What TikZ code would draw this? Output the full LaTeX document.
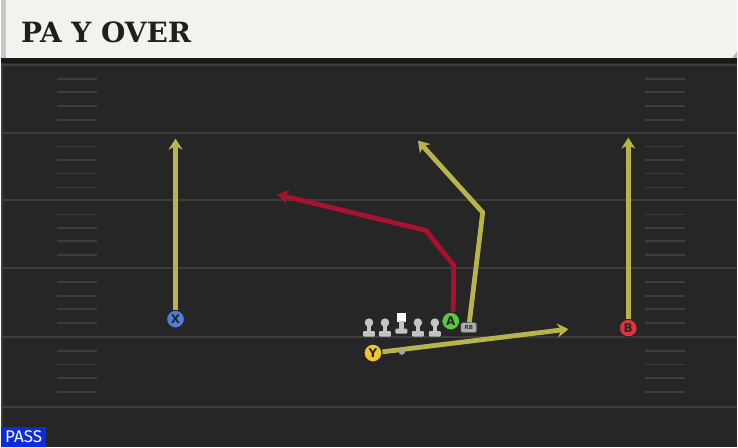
\documentclass[tikz,border=0pt]{standalone}
\usepackage{fontspec}
\setmainfont{DejaVu Sans}
\newfontfamily\titlefont{DejaVu Serif}
\newfontfamily\passfont{Fira Sans}
\usetikzlibrary{arrows.meta}
\definecolor{fieldbg}{HTML}{262626}
\definecolor{fieldline}{HTML}{3D3D3D}
\definecolor{titlebg}{HTML}{F4F2EC}
\definecolor{routeyellow}{HTML}{B6B44B}
\definecolor{routered}{HTML}{A8122F}
\definecolor{xblue}{HTML}{4C80D8}
\definecolor{agreen}{HTML}{5CC83E}
\definecolor{bred}{HTML}{E0323F}
\definecolor{yyellow}{HTML}{F0C530}
\definecolor{passblue}{HTML}{0A2BE0}
\definecolor{linegray}{HTML}{C4C4C4}

\begin{document}
\begin{tikzpicture}[x=1pt,y=-1pt,
	route/.style={line width=4.8pt,-{Stealth[length=11pt,width=14pt,inset=3.5pt]}},
	player/.style={circle,draw=black!85,line width=1.1pt,minimum size=18pt,inner sep=0pt,
		font=\bfseries\fontsize{12}{12}\selectfont,text=black!85},
	hashmark/.style={draw=fieldline,line width=1.8pt}]
	% field and title bar
	\fill[fieldbg] (0,0) rectangle (738,448);
	\fill[titlebg] (0,0) rectangle (738,58.5);
	\fill[gray!45] (0,0) rectangle (5,58.5);
	\fill[gray!60] (733,58.5) -- (738,58.5) -- (738,52) -- cycle;
	\fill[black!90] (0,58.5) rectangle (738,63.5);
	\draw[fieldline,line width=1.5pt] (1,63.5) -- (1,448);
	\foreach \yl in {65,133,201,269,338,408}
		\draw[fieldline,line width=2pt] (0,\yl) -- (738,\yl);
	\foreach \yl in {65,133,201,269,338}
		\foreach \dy in {14,27.5,41,55}{
			\draw[hashmark] (56,\yl+\dy) -- (96,\yl+\dy);
			\draw[hashmark] (646,\yl+\dy) -- (686,\yl+\dy);
		}
	\node[anchor=base west,inner sep=0pt,font=\titlefont\bfseries\fontsize{28}{28}\selectfont,text=black!88] (title) at (20,42.3) {PA Y OVER};
	% line
	\foreach \xl in {369,385,418,435}{
		\fill[linegray] (\xl,323.5) circle (4.3);
		\fill[linegray] (\xl-2.3,323) rectangle (\xl+2.3,333);
		\fill[linegray,rounded corners=1pt] (\xl-6,332) rectangle (\xl+6,337.5);
	}
	\fill[white] (397,313.5) rectangle (406,322.5);
	\fill[linegray] (399.2,322) rectangle (403.8,330);
	\fill[linegray,rounded corners=1pt] (395.5,329.5) rectangle (407.5,334.5);
	% players
	\node[player,fill=xblue] (X) at (175,320) {X};
	\node[player,fill=bred] (B) at (629,329) {B};
	\node[player,fill=agreen] (A) at (451,322) {A};
	\node[player,fill=yyellow] (Y) at (373,354) {Y};
	\node[rounded corners=2pt,fill=gray!65,draw=black!70,line width=0.6pt,minimum width=16pt,minimum height=10pt,inner sep=0pt,
		font=\bfseries\fontsize{5.5}{5.5}\selectfont,text=black!80] (RB) at (469,328.5) {RB};
	% routes
	\coordinate (xtip) at (175,139);
	\coordinate (btip) at (629,138);
	\coordinate (a1) at (454,266);
	\coordinate (a2) at (426,231);
	\coordinate (atip) at (277,195);
	\coordinate (rb1) at (483,213);
	\coordinate (rbtip) at (418,141);
	\coordinate (ytip) at (569,330);
	\draw[route,routeyellow] (X) -- (xtip);
	\draw[route,routeyellow] (B) -- (btip);
	\draw[route,routered] (A.75) -- (a1) -- (a2) -- (atip);
	\draw[route,routeyellow] (RB) -- (rb1) -- (rbtip);
	\draw[route,routeyellow] (Y) -- (ytip);
	\node[circle,fill=gray!70,inner sep=0pt,minimum size=6.5pt] (ball) at (402,352.5) {};
	% play type
	\node[fill=passblue,anchor=south west,inner sep=0pt,minimum width=45pt,minimum height=20pt,
		font=\passfont\fontsize{17}{17}\selectfont,text=white] (pass) at (0,448) {PASS};
\end{tikzpicture}
\end{document}
